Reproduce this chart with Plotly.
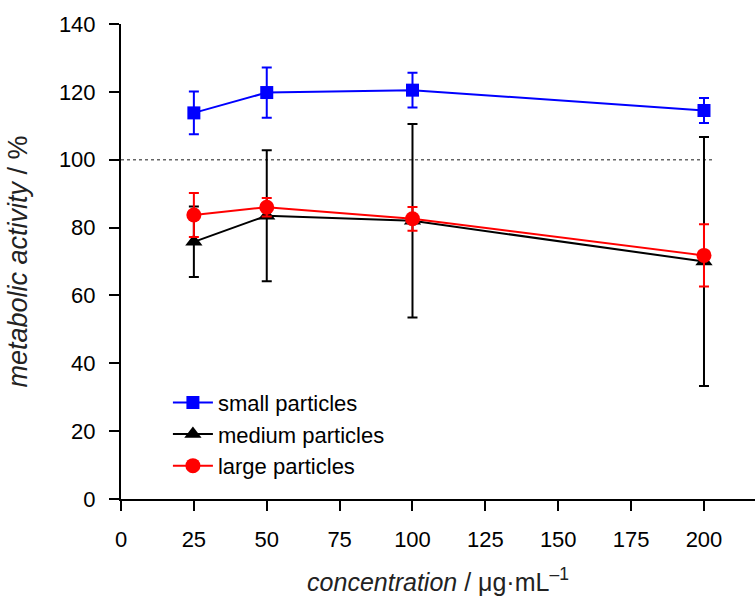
import plotly.graph_objects as go

conc = [25, 50, 100, 200]
small_mean = [113.8, 119.8, 120.5, 114.5]
small_err = [6.3, 7.4, 5.1, 3.7]
medium_mean = [75.8, 83.5, 82.0, 70.0]
medium_err = [10.4, 19.3, 28.5, 36.7]
large_mean = [83.7, 86.0, 82.6, 71.8]
large_err = [6.5, 2.7, 3.5, 9.2]
x_ticks = [0, 25, 50, 75, 100, 125, 150, 175, 200]
y_ticks = [0, 20, 40, 60, 80, 100, 120, 140]
reference_level = 100

FONT = "Liberation Sans, Arial, sans-serif"

fig = go.Figure()

def add(name, y, err, color, symbol, size):
    fig.add_trace(go.Scatter(
        x=conc, y=y, name=name, mode="lines+markers",
        line=dict(color=color, width=2),
        marker=dict(color=color, symbol=symbol, size=size),
        error_y=dict(type="data", array=err, visible=True, color=color,
                     thickness=2, width=5),
    ))

add("small particles", small_mean, small_err, "#0000ff", "square", 13)
add("medium particles", medium_mean, medium_err, "#000000", "triangle-up", 15)
add("large particles", large_mean, large_err, "#ff0000", "circle", 15)

fig.add_shape(type="line", x0=0, x1=203, y0=reference_level, y1=reference_level,
              xref="x", yref="y", line=dict(color="#666666", width=1.5, dash="dot"),
              layer="below")

fig.update_layout(
    width=755, height=596,
    margin=dict(l=121, r=0, t=24, b=97),
    paper_bgcolor="white", plot_bgcolor="white",
    font=dict(family=FONT, size=22, color="black"),
    showlegend=True,
    legend=dict(x=0.074, y=0.247, xanchor="left", yanchor="top",
                bgcolor="rgba(0,0,0,0)", font=dict(size=22),
                tracegroupgap=0, itemwidth=40),
    xaxis=dict(range=[0, 217.5], tickvals=x_ticks, ticks="outside", ticklen=10,
               tickwidth=2, tickcolor="black", showline=True, linewidth=2,
               linecolor="black", showgrid=False, zeroline=False,
               ticklabelstandoff=10,
               title=dict(text="<i>concentration</i> / μg·mL<sup>–1</sup>",
                          standoff=22, font=dict(size=25, color="#222222"))),
    yaxis=dict(range=[0, 140], tickvals=y_ticks, ticks="outside", ticklen=10,
               tickwidth=2, tickcolor="black", showline=True, linewidth=2,
               linecolor="black", showgrid=False, zeroline=False,
               ticklabelstandoff=9,
               title=dict(text="<i>metabolic activity</i> / %", standoff=23,
                          font=dict(size=27, color="#222222"))),
)

fig.write_html("out.html", config={"displayModeBar": False},
               post_script="document.body.style.margin='0';document.body.style.padding='0';")
